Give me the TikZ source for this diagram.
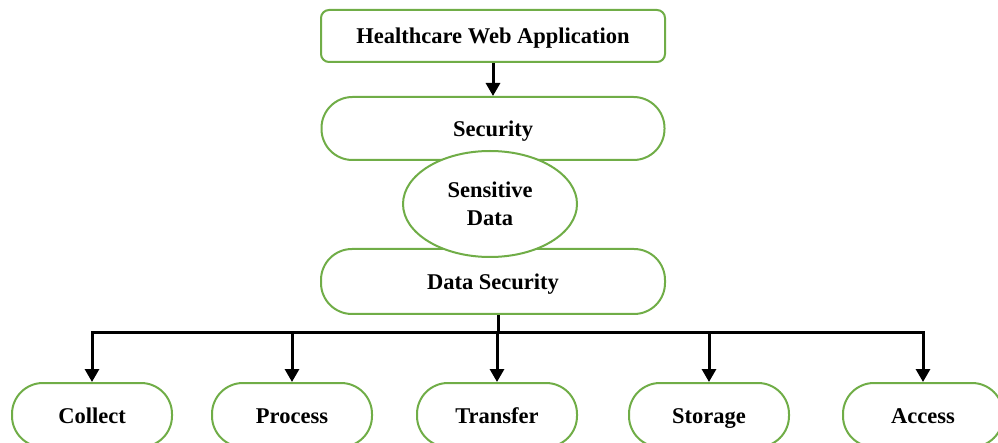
\documentclass[tikz,border=0pt]{standalone}
\usepackage{fontspec}
\setmainfont{Liberation Serif}
\usetikzlibrary{arrows.meta,shapes.geometric}
\definecolor{boxgreen}{HTML}{70AD47}
\begin{document}
\begin{tikzpicture}[x=1pt,y=-1pt,
  lbl/.style={font=\fontsize{22.5}{28}\selectfont\bfseries, align=center, text=black},
  gbox/.style={lbl, draw=boxgreen, line width=2pt, fill=white, inner sep=0pt},
  one/.style={text height=20pt, text depth=4pt},
  pill/.style={gbox, one, rectangle, rounded corners=31pt},
  conn/.style={line width=3pt, draw=black},
  arr/.style={conn, -{Triangle[length=13pt,width=14pt]}}]
\useasboundingbox (0,0) rectangle (998,443);
\clip (0,0) rectangle (998,443);
\node[gbox, one, rectangle, rounded corners=8pt, minimum width=344pt, minimum height=52pt] (top) at (493,36) {Healthcare Web Application};
\node[pill, minimum width=343pt, minimum height=63pt] (sec) at (493,128.5) {Security};
\node[pill, minimum width=344pt, minimum height=65pt] (ds) at (493,281.5) {Data Security};
\node[gbox, ellipse, minimum width=174pt, minimum height=106pt] (sens) at (490,204) {Sensitive\\Data};
\node[pill, minimum width=160pt, minimum height=64pt] (c1) at (92,415) {Collect};
\node[pill, minimum width=160pt, minimum height=64pt] (c2) at (292,415) {Process};
\node[pill, minimum width=160pt, minimum height=64pt] (c3) at (497,415) {Transfer};
\node[pill, minimum width=160pt, minimum height=64pt] (c4) at (709,415) {Storage};
\node[pill, minimum width=160pt, minimum height=64pt] (c5) at (923,415) {Access};
\coordinate (hub) at (498,333);
\draw[arr] (top.south) -- (sec.north);
\draw[conn] (ds.south -| hub) -- (hub);
\draw[conn, line cap=rect] (hub -| c1) -- (hub -| c5);
\foreach \n in {c1,c2,c3,c4,c5} {
  \draw[arr] (hub -| \n) -- (\n.north);
}
\end{tikzpicture}
\end{document}
